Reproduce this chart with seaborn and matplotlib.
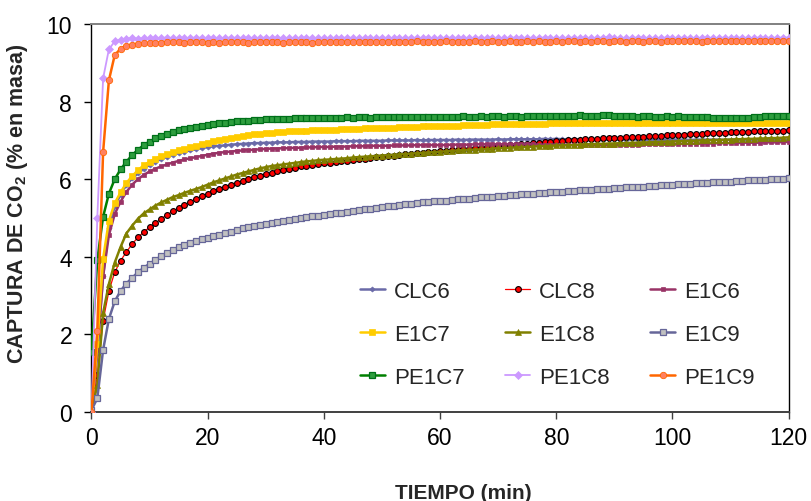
import numpy as np
import pandas as pd
import matplotlib
matplotlib.use("Agg")
import matplotlib.pyplot as plt
import seaborn as sns

# Sampling times (min)
tiempo = list(range(0, 121))

# CO2 uptake (% by mass) for each sorbent, one value per minute
clc6 = [0.0, 1.5, 3.5, 4.75, 5.3, 5.6, 5.85, 6.02, 6.15, 6.27, 6.37,
        6.45, 6.52, 6.58, 6.63, 6.68, 6.71, 6.74, 6.77, 6.8, 6.83,
        6.85, 6.86, 6.87, 6.89, 6.9, 6.91, 6.92, 6.93, 6.93, 6.94,
        6.94, 6.95, 6.95, 6.95, 6.96, 6.96, 6.96, 6.97, 6.97, 6.97,
        6.97, 6.98, 6.98, 6.98, 6.98, 6.99, 6.99, 6.99, 6.99, 6.99,
        7.0, 7.0, 7.0, 7.0, 7.0, 7.01, 7.0, 7.01, 7.01, 7.01,
        7.01, 7.01, 7.02, 7.01, 7.02, 7.02, 7.02, 7.02, 7.02, 7.03,
        7.02, 7.03, 7.03, 7.03, 7.03, 7.03, 7.03, 7.04, 7.03, 7.04,
        7.03, 7.03, 7.03, 7.03, 7.02, 7.03, 7.03, 7.02, 7.03, 7.03,
        7.02, 7.02, 7.03, 7.02, 7.02, 7.02, 7.02, 7.01, 7.02, 7.02,
        7.02, 7.02, 7.01, 7.02, 7.02, 7.02, 7.02, 7.02, 7.01, 7.02,
        7.02, 7.02, 7.02, 7.02, 7.02, 7.02, 7.02, 7.02, 7.02, 7.02]

clc8 = [0.0, 0.95, 2.35, 3.12, 3.6, 3.9, 4.12, 4.33, 4.5, 4.64, 4.76,
        4.87, 4.98, 5.08, 5.17, 5.26, 5.34, 5.42, 5.49, 5.56, 5.63,
        5.7, 5.76, 5.81, 5.86, 5.91, 5.96, 6.0, 6.05, 6.09, 6.13,
        6.17, 6.21, 6.24, 6.27, 6.3, 6.33, 6.35, 6.37, 6.39, 6.41,
        6.43, 6.45, 6.47, 6.48, 6.5, 6.52, 6.53, 6.55, 6.56, 6.58,
        6.59, 6.61, 6.62, 6.64, 6.65, 6.67, 6.68, 6.69, 6.71, 6.72,
        6.73, 6.75, 6.76, 6.77, 6.79, 6.8, 6.81, 6.82, 6.84, 6.85,
        6.86, 6.87, 6.89, 6.9, 6.92, 6.93, 6.94, 6.95, 6.97, 6.98,
        6.99, 7.0, 7.01, 7.02, 7.03, 7.03, 7.04, 7.05, 7.06, 7.06,
        7.07, 7.08, 7.09, 7.09, 7.1, 7.11, 7.11, 7.12, 7.13, 7.14,
        7.14, 7.15, 7.16, 7.17, 7.17, 7.18, 7.19, 7.19, 7.2, 7.21,
        7.21, 7.22, 7.22, 7.23, 7.23, 7.24, 7.24, 7.25, 7.25, 7.26]

e1c6 = [0.0, 1.6, 3.5, 4.56, 5.1, 5.42, 5.67, 5.86, 6.0, 6.11, 6.2,
        6.27, 6.33, 6.38, 6.43, 6.47, 6.51, 6.54, 6.57, 6.6, 6.63,
        6.66, 6.68, 6.7, 6.71, 6.73, 6.74, 6.75, 6.76, 6.77, 6.78,
        6.79, 6.79, 6.8, 6.8, 6.81, 6.81, 6.82, 6.82, 6.83, 6.83,
        6.83, 6.84, 6.84, 6.84, 6.85, 6.85, 6.85, 6.86, 6.86, 6.86,
        6.86, 6.87, 6.87, 6.87, 6.87, 6.88, 6.88, 6.88, 6.88, 6.88,
        6.88, 6.89, 6.89, 6.89, 6.89, 6.9, 6.9, 6.9, 6.9, 6.9,
        6.9, 6.9, 6.9, 6.9, 6.9, 6.9, 6.89, 6.89, 6.89, 6.89,
        6.88, 6.88, 6.88, 6.88, 6.88, 6.87, 6.88, 6.88, 6.88, 6.88,
        6.89, 6.89, 6.89, 6.89, 6.9, 6.9, 6.9, 6.9, 6.9, 6.9,
        6.91, 6.91, 6.91, 6.92, 6.92, 6.92, 6.92, 6.93, 6.93, 6.93,
        6.93, 6.94, 6.94, 6.94, 6.94, 6.95, 6.95, 6.95, 6.96, 6.96]

e1c7 = [0.0, 1.75, 3.95, 4.93, 5.38, 5.66, 5.9, 6.08, 6.23, 6.36, 6.45,
        6.53, 6.59, 6.64, 6.69, 6.74, 6.78, 6.82, 6.86, 6.9, 6.94,
        6.98, 7.01, 7.04, 7.07, 7.1, 7.12, 7.14, 7.16, 7.17, 7.19,
        7.2, 7.21, 7.22, 7.23, 7.24, 7.25, 7.25, 7.26, 7.27, 7.27,
        7.28, 7.28, 7.29, 7.29, 7.3, 7.3, 7.31, 7.31, 7.32, 7.32,
        7.33, 7.33, 7.34, 7.34, 7.35, 7.35, 7.36, 7.36, 7.37, 7.37,
        7.38, 7.38, 7.38, 7.39, 7.39, 7.4, 7.4, 7.4, 7.41, 7.41,
        7.41, 7.42, 7.42, 7.42, 7.43, 7.43, 7.43, 7.43, 7.44, 7.44,
        7.44, 7.44, 7.44, 7.44, 7.45, 7.44, 7.45, 7.45, 7.44, 7.45,
        7.45, 7.45, 7.44, 7.45, 7.45, 7.45, 7.45, 7.44, 7.45, 7.45,
        7.45, 7.45, 7.45, 7.44, 7.45, 7.45, 7.45, 7.45, 7.45, 7.45,
        7.45, 7.45, 7.45, 7.45, 7.45, 7.45, 7.45, 7.45, 7.45, 7.45]

e1c8 = [0.0, 0.7, 2.55, 3.3, 3.85, 4.25, 4.6, 4.8, 4.98, 5.12, 5.22,
        5.32, 5.4, 5.47, 5.54, 5.59, 5.65, 5.7, 5.75, 5.8, 5.86,
        5.92, 5.97, 6.02, 6.07, 6.12, 6.16, 6.2, 6.24, 6.28, 6.31,
        6.34, 6.36, 6.38, 6.4, 6.42, 6.44, 6.46, 6.47, 6.49, 6.5,
        6.51, 6.52, 6.53, 6.54, 6.56, 6.57, 6.58, 6.59, 6.6, 6.61,
        6.62, 6.63, 6.64, 6.65, 6.66, 6.67, 6.68, 6.69, 6.7, 6.71,
        6.72, 6.73, 6.74, 6.75, 6.76, 6.76, 6.77, 6.78, 6.79, 6.8,
        6.8, 6.81, 6.82, 6.83, 6.83, 6.84, 6.85, 6.85, 6.86, 6.87,
        6.87, 6.88, 6.88, 6.89, 6.9, 6.9, 6.91, 6.91, 6.92, 6.92,
        6.93, 6.93, 6.94, 6.94, 6.95, 6.95, 6.96, 6.96, 6.97, 6.97,
        6.98, 6.98, 6.99, 6.99, 7.0, 7.0, 7.01, 7.01, 7.02, 7.02,
        7.03, 7.03, 7.04, 7.04, 7.05, 7.05, 7.06, 7.06, 7.07, 7.08]

e1c9 = [0.05, 0.35, 1.6, 2.4, 2.85, 3.12, 3.31, 3.46, 3.6, 3.72, 3.82,
        3.92, 4.02, 4.1, 4.18, 4.25, 4.31, 4.36, 4.41, 4.45, 4.49,
        4.53, 4.57, 4.61, 4.65, 4.69, 4.73, 4.76, 4.79, 4.82, 4.85,
        4.88, 4.9, 4.93, 4.95, 4.98, 5.0, 5.02, 5.04, 5.06, 5.08,
        5.1, 5.12, 5.14, 5.16, 5.18, 5.2, 5.22, 5.24, 5.26, 5.28,
        5.3, 5.32, 5.34, 5.35, 5.37, 5.38, 5.4, 5.41, 5.43, 5.44,
        5.45, 5.47, 5.48, 5.49, 5.5, 5.52, 5.53, 5.54, 5.55, 5.56,
        5.57, 5.59, 5.6, 5.61, 5.62, 5.63, 5.64, 5.65, 5.66, 5.67,
        5.68, 5.69, 5.7, 5.71, 5.72, 5.73, 5.74, 5.75, 5.76, 5.77,
        5.78, 5.79, 5.8, 5.8, 5.81, 5.82, 5.83, 5.84, 5.85, 5.86,
        5.87, 5.88, 5.88, 5.89, 5.9, 5.91, 5.92, 5.93, 5.94, 5.94,
        5.95, 5.96, 5.97, 5.98, 5.98, 5.99, 6.0, 6.0, 6.01, 6.02]

pe1c7 = [1.55, 3.92, 5.03, 5.63, 6.0, 6.25, 6.45, 6.62, 6.76, 6.88, 6.97,
         7.05, 7.12, 7.17, 7.22, 7.26, 7.29, 7.32, 7.35, 7.38, 7.4,
         7.42, 7.44, 7.46, 7.47, 7.49, 7.5, 7.51, 7.52, 7.53, 7.54,
         7.55, 7.55, 7.56, 7.56, 7.57, 7.57, 7.58, 7.58, 7.58, 7.59,
         7.59, 7.58, 7.59, 7.6, 7.59, 7.6, 7.6, 7.59, 7.6, 7.6,
         7.61, 7.6, 7.6, 7.61, 7.6, 7.61, 7.6, 7.61, 7.61, 7.6,
         7.61, 7.6, 7.61, 7.62, 7.61, 7.61, 7.62, 7.61, 7.62, 7.62,
         7.61, 7.62, 7.62, 7.61, 7.62, 7.63, 7.62, 7.62, 7.63, 7.62,
         7.63, 7.64, 7.64, 7.65, 7.64, 7.63, 7.64, 7.65, 7.65, 7.64,
         7.63, 7.62, 7.62, 7.61, 7.62, 7.62, 7.61, 7.61, 7.62, 7.61,
         7.62, 7.61, 7.6, 7.61, 7.6, 7.6, 7.59, 7.58, 7.57, 7.57,
         7.58, 7.57, 7.58, 7.6, 7.61, 7.62, 7.62, 7.63, 7.63, 7.63]

pe1c8 = [0.0, 5.0, 8.6, 9.35, 9.55, 9.6, 9.62, 9.63, 9.62, 9.63, 9.64,
         9.63, 9.64, 9.65, 9.63, 9.64, 9.63, 9.64, 9.65, 9.64, 9.63,
         9.64, 9.63, 9.64, 9.65, 9.64, 9.63, 9.64, 9.63, 9.64, 9.65,
         9.64, 9.63, 9.64, 9.64, 9.63, 9.64, 9.65, 9.64, 9.63, 9.64,
         9.63, 9.64, 9.64, 9.65, 9.64, 9.63, 9.64, 9.63, 9.64, 9.65,
         9.64, 9.64, 9.63, 9.64, 9.65, 9.64, 9.63, 9.64, 9.64, 9.63,
         9.64, 9.65, 9.64, 9.64, 9.63, 9.64, 9.65, 9.64, 9.64, 9.63,
         9.64, 9.64, 9.65, 9.64, 9.63, 9.64, 9.64, 9.65, 9.64, 9.64,
         9.63, 9.64, 9.65, 9.64, 9.64, 9.63, 9.64, 9.65, 9.66, 9.64,
         9.64, 9.63, 9.64, 9.65, 9.64, 9.64, 9.63, 9.64, 9.65, 9.64,
         9.64, 9.65, 9.64, 9.63, 9.64, 9.65, 9.64, 9.64, 9.65, 9.64,
         9.64, 9.65, 9.64, 9.64, 9.65, 9.64, 9.65, 9.64, 9.65, 9.65]

pe1c9 = [0.0, 2.1, 6.7, 8.55, 9.2, 9.36, 9.43, 9.47, 9.49, 9.5, 9.51,
         9.52, 9.52, 9.53, 9.54, 9.53, 9.52, 9.53, 9.54, 9.53, 9.52,
         9.53, 9.52, 9.53, 9.53, 9.54, 9.53, 9.52, 9.53, 9.53, 9.54,
         9.53, 9.53, 9.52, 9.53, 9.54, 9.53, 9.53, 9.52, 9.53, 9.53,
         9.54, 9.53, 9.53, 9.54, 9.53, 9.53, 9.54, 9.53, 9.53, 9.54,
         9.53, 9.54, 9.54, 9.53, 9.54, 9.55, 9.54, 9.53, 9.54, 9.54,
         9.55, 9.54, 9.54, 9.53, 9.54, 9.55, 9.54, 9.54, 9.55, 9.54,
         9.54, 9.55, 9.54, 9.54, 9.55, 9.54, 9.55, 9.54, 9.54, 9.55,
         9.54, 9.55, 9.55, 9.54, 9.55, 9.54, 9.55, 9.55, 9.54, 9.55,
         9.55, 9.54, 9.55, 9.55, 9.54, 9.55, 9.55, 9.54, 9.55, 9.55,
         9.55, 9.56, 9.55, 9.55, 9.54, 9.55, 9.56, 9.55, 9.55, 9.56,
         9.55, 9.55, 9.56, 9.55, 9.55, 9.56, 9.55, 9.56, 9.55, 9.56]

series_names = ["CLC6", "CLC8", "E1C6", "E1C7", "E1C8", "E1C9",
                "PE1C7", "PE1C8", "PE1C9"]
series_values = [clc6, clc8, e1c6, e1c7, e1c8, e1c9, pe1c7, pe1c8, pe1c9]

df = pd.concat(
    [pd.DataFrame({"tiempo": tiempo, "captura": vals, "muestra": name})
     for name, vals in zip(series_names, series_values)],
    ignore_index=True,
)

# Line / marker look for each sorbent
styles = {
    "CLC6":  dict(color="#6A6AA8", lw=1.8, marker="D", ms=2.6, mfc="#6A6AA8", mec="#6A6AA8", mew=0.5),
    "CLC8":  dict(color="#FF0000", lw=0.9, marker="o", ms=4.2, mfc="#FF0000", mec="#000000", mew=0.8),
    "E1C6":  dict(color="#993366", lw=1.8, marker="s", ms=3.4, mfc="#993366", mec="#993366", mew=0.5),
    "E1C7":  dict(color="#FFCC00", lw=1.8, marker="s", ms=3.8, mfc="#FFCC00", mec="#FFCC00", mew=0.5),
    "E1C8":  dict(color="#808000", lw=1.8, marker="^", ms=4.2, mfc="#808000", mec="#808000", mew=0.5),
    "E1C9":  dict(color="#666699", lw=1.8, marker="s", ms=4.2, mfc="#C0C0C0", mec="#666699", mew=0.9),
    "PE1C7": dict(color="#008000", lw=1.8, marker="s", ms=4.6, mfc="#2E9E3E", mec="#00701A", mew=0.9),
    "PE1C8": dict(color="#CC99FF", lw=1.3, marker="D", ms=4.2, mfc="#CC99FF", mec="#CC99FF", mew=0.5),
    "PE1C9": dict(color="#FF6600", lw=1.8, marker="o", ms=4.6, mfc="#FF8060", mec="#FF6600", mew=0.6),
}

sns.set_style("ticks")
plt.rcParams["font.family"] = ["Liberation Sans", "DejaVu Sans"]
plt.rcParams["mathtext.fontset"] = "custom"
plt.rcParams["mathtext.rm"] = "Liberation Sans"
plt.rcParams["mathtext.bf"] = "Liberation Sans:bold"

fig = plt.figure(figsize=(8.11, 5.02), dpi=100)
ax = fig.add_axes([0.1128, 0.1773, 0.8597, 0.7729])

for i, name in enumerate(series_names):
    st = styles[name]
    sub = df[df["muestra"] == name]
    sns.lineplot(data=sub, x="tiempo", y="captura", ax=ax, label=name,
                 color=st["color"], linewidth=st["lw"], marker=st["marker"],
                 markersize=st["ms"], markerfacecolor=st["mfc"],
                 markeredgecolor=st["mec"], markeredgewidth=st["mew"],
                 zorder=2 + i, legend=False)

ax.set_xlim(0, 120)
ax.set_ylim(0, 10)
ax.set_xticks([0, 20, 40, 60, 80, 100, 120])
ax.set_yticks([0, 2, 4, 6, 8, 10])
ax.tick_params(axis="x", direction="out", length=5, width=1, pad=5,
               labelsize=16.5, colors="#000000")
ax.tick_params(axis="y", direction="out", length=5, width=1, pad=9,
               labelsize=16.5, colors="#000000")
ax.tick_params(axis="x", color="#404040")

for side in ["left", "right"]:
    ax.spines[side].set_color("#000000")
    ax.spines[side].set_linewidth(1.0)
ax.spines["top"].set_color("#808080")
ax.spines["top"].set_linewidth(1.4)
ax.spines["bottom"].set_color("#404040")
ax.spines["bottom"].set_linewidth(1.4)
ax.spines["top"].set_visible(True)
ax.spines["right"].set_visible(True)

ax.set_xlabel("TIEMPO (min)", fontsize=15, fontweight="bold")
ax.set_ylabel(r"CAPTURA DE CO$_\mathbf{2}$ (% en masa)", fontsize=15.5,
              fontweight="bold")
ax.xaxis.set_label_coords(0.534, -0.182)
ax.yaxis.set_label_coords(-0.088, 0.54)

# Legend laid out row by row in three columns
handles, labels = ax.get_legend_handles_labels()
order = [0, 3, 6, 1, 4, 7, 2, 5, 8]
ax.legend([handles[k] for k in order], [labels[k] for k in order],
          ncol=3, loc="center", bbox_to_anchor=(0.668, 0.2),
          frameon=False, fontsize=16, handlelength=1.15,
          handletextpad=0.4, columnspacing=1.8, labelspacing=0.98,
          borderpad=0.2)

fig.savefig("out.png", dpi=100)
